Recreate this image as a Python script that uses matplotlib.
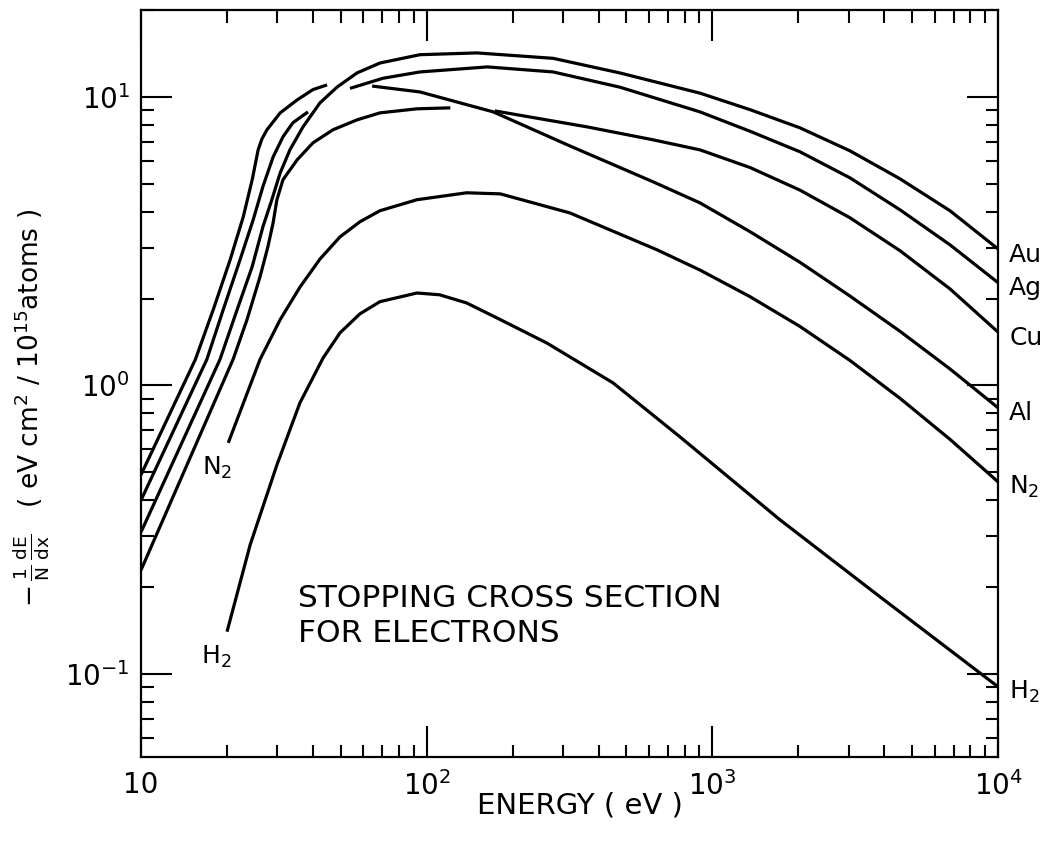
import numpy as np
import matplotlib.pyplot as plt
from matplotlib.ticker import LogLocator, NullFormatter

plt.rcParams['font.family'] = ['DejaVu Sans']
plt.rcParams['mathtext.default'] = 'regular'

# Stopping cross sections, eV cm^2 / 10^15 atoms.
# NaN marks where a curve is broken to let another one pass through.
au_energy = [10, 18.9, 21.7, 24.5, 26.7, 28.7, 30.7, 33.2, 36.9, 42.3, 48.5, 57.0, 68.6,
             94.7, 150, 277, 475, 905, 1354, 2026, 3031, 4536, 6788, 10000]
au_value = [0.31, 1.23, 1.83, 2.58, 3.54, 4.40, 5.45, 6.55, 7.87, 9.53, 10.8, 12.1, 13.1,
            14.0, 14.2, 13.6, 12.1, 10.3, 9.03, 7.81, 6.50, 5.20, 4.03, 2.97]

ag_energy = [10, 17.0, 19.4, 22.2, 24.7, 26.7, 29.0, 31.4, 34.0, 38.4, np.nan,
             53.9, 70.3, 94.7, 163, 277, 475, 905, 1354, 2026, 3031, 4536, 6788, 10000]
ag_value = [0.40, 1.23, 1.83, 2.72, 3.75, 4.88, 6.19, 7.27, 8.13, 8.87, np.nan,
            10.7, 11.6, 12.2, 12.7, 12.2, 10.8, 8.87, 7.60, 6.45, 5.24, 4.06, 3.07, 2.27]

cu_energy = [10, 21.0, 23.5, 26.1, 27.8, 29.0, 29.9, 31.4, 35.2, 40.0, 47.0, 57.0, 68.6,
             92.5, 121, np.nan, 173, 364, 619, 905, 1354, 2026, 3031, 4536, 6788, 10000]
cu_value = [0.229, 1.23, 1.69, 2.38, 3.02, 3.66, 4.40, 5.16, 6.05, 6.93, 7.69, 8.32, 8.80,
            9.09, 9.16, np.nan, 8.94, 7.87, 7.10, 6.55, 5.69, 4.75, 3.81, 2.93, 2.16, 1.53]

al_energy = [10, 15.5, 17.9, 20.5, 22.8, 24.5, 25.7, 26.5, 27.6, 30.7, 35.2, 40.0, 44.8,
             np.nan, 64.4, 94.7, 171, 317, 619, 905, 1354, 2026, 3031, 4536, 6788, 10000]
al_value = [0.49, 1.23, 1.83, 2.72, 3.84, 5.16, 6.55, 7.15, 7.69, 8.80, 9.76, 10.6, 11.0,
            np.nan, 10.9, 10.4, 8.87, 6.76, 5.08, 4.29, 3.41, 2.67, 2.04, 1.54, 1.14, 0.836]

n2_energy = [20.2, 26.1, 30.7, 36.0, 42.3, 49.7, 58.4, 68.6, 92.5, 138, 181, 317, 640,
             905, 1354, 2026, 3031, 4536, 6788, 10000]
n2_value = [0.632, 1.23, 1.69, 2.19, 2.74, 3.27, 3.69, 4.03, 4.40, 4.65, 4.61, 3.96, 2.95,
            2.51, 2.03, 1.60, 1.22, 0.902, 0.650, 0.463]

h2_energy = [20, 24.1, 29.9, 36.0, 43.4, 49.7, 58.4, 68.6, 92.5, 111, 138, 181, 264,
             449, 770, 1724, 3860, 10000]
h2_value = [0.14, 0.280, 0.530, 0.870, 1.245, 1.52, 1.77, 1.95, 2.09, 2.06, 1.93, 1.69, 1.40,
            1.02, 0.663, 0.342, 0.185, 0.0902]

curves = [
    ('Au', au_energy, au_value),
    ('Ag', ag_energy, ag_value),
    ('Cu', cu_energy, cu_value),
    ('Al', al_energy, al_value),
    ('N$_2$', n2_energy, n2_value),
    ('H$_2$', h2_energy, h2_value),
]

fig = plt.figure(figsize=(10.54, 8.41), dpi=100)
ax = fig.add_axes([0.1338, 0.0999, 0.8131, 0.8882])

for name, e, s in curves:
    ax.plot(e, s, color='black', lw=2.3, solid_capstyle='butt', solid_joinstyle='round')
    # element names sit just outside the right frame, at each curve's end
    ax.annotate(name, xy=(e[-1], s[-1]), xytext=(8, -4), textcoords='offset points',
                ha='left', va='center', fontsize=18, annotation_clip=False)

# gas curves are also named where they begin
for name, e, s in curves[4:]:
    ax.annotate(name, xy=(e[0], s[0]), xytext=(-8, -18), textcoords='offset points',
                ha='center', va='center', fontsize=18)

ax.set_xscale('log')
ax.set_yscale('log')
ax.set_xlim(10, 1e4)
ax.set_ylim(0.0515, 20)

ax.set_xticks([10, 100, 1000, 10000], labels=['10', '10$^2$', '10$^3$', '10$^4$'])
ax.set_yticks([0.1, 1, 10], labels=['10$^{-1}$', '10$^0$', '10$^1$'])
sub = np.arange(2, 10)
ax.xaxis.set_minor_locator(LogLocator(base=10, subs=sub))
ax.yaxis.set_minor_locator(LogLocator(base=10, subs=sub))
ax.xaxis.set_minor_formatter(NullFormatter())
ax.yaxis.set_minor_formatter(NullFormatter())

ax.tick_params(which='both', direction='in', top=True, right=True, width=1.5,
               labelsize=20, color='black')
ax.tick_params(which='major', length=22)
ax.tick_params(which='minor', length=9)
ax.tick_params(axis='x', which='major', pad=10)
ax.tick_params(axis='y', which='major', pad=8)

for sp in ax.spines.values():
    sp.set_linewidth(1.6)

ax.text(0.183, 0.189, 'STOPPING CROSS SECTION\nFOR ELECTRONS', transform=ax.transAxes,
        fontsize=22.5, ha='left', va='center', linespacing=1.25)

ax.set_xlabel('ENERGY ( eV )', fontsize=21)
ax.xaxis.set_label_coords(0.512, -0.046)
ax.set_ylabel(r'$-\,\frac{1}{N}\,\frac{dE}{dx}$   ( eV cm$^2$ / 10$^{15}$atoms )',
              fontsize=19)
ax.yaxis.set_label_coords(-0.104, 0.467)

fig.savefig('out.png', dpi=100)
